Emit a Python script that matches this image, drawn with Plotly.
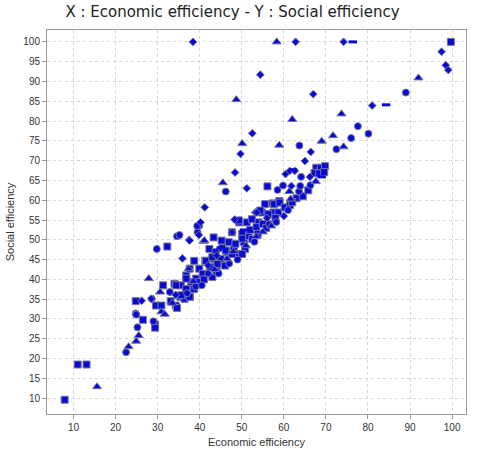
import plotly.graph_objects as go

# ---- data ----
sq_x = [7.9, 11.0, 13.1, 24.8, 26.5, 29.4, 29.4, 29.6, 31.3, 30.9, 33.1, 34.3, 34.6, 34.0, 35.5, 35.4,
        32.3, 43.3, 36.0, 36.4, 37.7, 38.2, 36.8, 38.0, 39.9, 39.1, 40.3, 38.7, 41.3, 42.4, 43.4, 44.8,
        46.0, 42.3, 43.8, 45.4, 46.6, 46.9, 48.1, 49.3, 50.5, 50.8, 51.6, 47.7, 50.1, 56.1, 55.5, 57.3,
        58.9, 54.8, 57.5, 49.4, 51.2, 45.2, 50.1, 46.2, 47.7, 50.1, 41.5, 43.0, 45.0, 37.6, 42.6, 44.2,
        36.8, 40.7, 43.0, 34.4, 36.8, 38.7, 39.9, 35.6, 37.6, 67.7, 68.8, 69.8, 67.3, 68.4, 69.6, 57.7,
        59.0, 54.4, 56.3, 58.7, 49.3, 52.4, 54.0, 52.0, 53.5, 55.0, 99.7, 48.5, 44.0, 41.0, 52.5, 53.8,
        55.8, 58.0, 60.2, 61.5, 63.0, 64.5, 65.8, 62.0]
sq_y = [9.6, 18.5, 18.5, 34.5, 29.8, 28.6, 27.8, 33.4, 38.5, 33.4, 34.5, 33.4, 32.8, 38.9, 38.5, 35.6,
        48.3, 50.6, 35.6, 35.1, 35.6, 37.6, 41.0, 39.3, 42.7, 40.2, 39.3, 44.7, 44.7, 42.8, 45.2, 44.3,
        43.5, 47.7, 46.9, 47.9, 46.9, 49.4, 47.7, 46.4, 49.4, 47.7, 51.0, 51.9, 51.5, 63.5, 59.0, 59.2,
        59.8, 56.9, 56.9, 54.4, 54.4, 49.8, 50.3, 47.3, 46.4, 46.4, 44.7, 45.6, 45.2, 42.7, 43.1, 43.9,
        40.2, 41.4, 40.6, 38.5, 37.6, 37.6, 39.3, 36.0, 35.6, 68.2, 68.2, 68.6, 66.9, 66.8, 67.1, 59.0,
        59.4, 57.4, 56.5, 56.9, 54.9, 55.2, 54.4, 52.5, 53.2, 54.0, 100.0, 49.0, 42.0, 40.0, 50.2, 51.5,
        53.0, 55.5, 58.2, 58.8, 60.5, 61.0, 62.5, 59.5]

ci_x = [22.5, 25.2, 24.8, 29.0, 32.9, 29.8, 34.6, 35.2, 28.6, 24.9, 39.5, 39.9, 39.4, 46.2, 58.5, 59.8,
        63.6, 63.9, 66.3, 64.1, 63.7, 72.5, 76.0, 77.6, 80.1, 89.0, 37.0, 40.5, 44.5, 47.0, 49.0, 53.0,
        56.5, 58.2, 61.0, 42.0, 39.0]
ci_y = [21.6, 27.9, 31.4, 29.4, 36.8, 47.7, 50.9, 51.2, 35.1, 31.1, 51.9, 53.6, 53.5, 62.2, 62.6, 63.7,
        62.2, 63.6, 63.8, 65.9, 73.8, 72.9, 75.7, 78.7, 76.8, 87.2, 36.5, 38.5, 41.5, 44.0, 45.0, 49.5,
        54.0, 54.5, 57.5, 41.5, 38.2]

tr_x = [15.6, 23.1, 24.9, 25.5, 27.9, 30.6, 30.9, 31.7, 37.4, 40.9, 41.1, 45.5, 48.7, 50.1, 58.9, 58.3,
        62.0, 73.7, 71.7, 69.0, 74.2, 92.0, 61.3, 61.6, 67.6, 38.5, 43.5, 46.5, 51.0, 33.5, 55.0, 57.0,
        48.0, 53.5]
tr_y = [12.9, 23.0, 24.4, 25.8, 40.2, 36.8, 31.8, 31.2, 42.7, 49.6, 49.8, 64.4, 85.4, 74.3, 73.9, 100.0,
        80.4, 81.8, 76.3, 74.9, 73.5, 90.9, 62.2, 60.3, 64.7, 39.5, 42.5, 45.2, 48.5, 34.0, 52.0, 53.5,
        47.0, 50.8]

di_x = [38.4, 62.8, 74.2, 97.5, 98.5, 99.1, 54.4, 67.0, 81.0, 52.5, 49.7, 48.4, 51.2, 60.4, 61.4, 62.6,
        61.8, 66.2, 66.4, 65.0, 41.2, 40.2, 37.5, 39.8, 35.9, 26.2, 28.5, 34.3, 53.2, 53.6, 48.3, 47.7,
        37.6, 60.0, 44.0, 42.0, 56.0]
di_y = [100.0, 100.0, 100.0, 97.5, 94.1, 92.9, 91.7, 86.8, 83.9, 76.9, 71.7, 67.0, 63.0, 66.6, 67.4, 67.4,
        63.6, 65.9, 72.2, 69.9, 58.2, 54.4, 50.0, 51.2, 45.3, 34.6, 35.1, 36.1, 56.9, 56.9, 55.1, 51.9,
        49.8, 56.0, 46.0, 43.5, 55.5]

da_x = [76.4, 84.3, 62.2, 69.0, 45.0, 50.5]
da_y = [100.0, 84.1, 67.7, 65.9, 48.0, 52.5]

x_ticks = [10, 20, 30, 40, 50, 60, 70, 80, 90, 100]
y_ticks = [10, 15, 20, 25, 30, 35, 40, 45, 50, 55, 60, 65, 70, 75, 80, 85, 90, 95, 100]

FILL = "rgb(10,10,215)"
EDGE = "rgb(120,120,150)"

fig = go.Figure()
for xs, ys, sym, sz in [(sq_x, sq_y, "square", 7), (ci_x, ci_y, "circle", 7),
                        (tr_x, tr_y, "triangle-up", 8), (di_x, di_y, "diamond", 6)]:
    fig.add_trace(go.Scatter(x=xs, y=ys, mode="markers",
                             marker=dict(symbol=sym, size=sz, color=FILL,
                                         line=dict(color=EDGE, width=1)),
                             showlegend=False))
fig.add_trace(go.Scatter(x=da_x, y=da_y, mode="markers",
                         marker=dict(symbol="line-ew", size=6,
                                     line=dict(color=FILL, width=3)),
                         showlegend=False))

axis_common = dict(showgrid=True, gridcolor="#d6d6d6", griddash="dot", gridwidth=1,
                   showline=True, linecolor="#999999", linewidth=1, mirror=True,
                   ticks="outside", ticklen=4, tickcolor="#999999",
                   tickfont=dict(family="Liberation Sans, Arial", size=10, color="#333333"),
                   zeroline=False)

fig.update_layout(
    width=477, height=457,
    margin=dict(l=42, r=10, t=30, b=41),
    paper_bgcolor="white", plot_bgcolor="white",
    title=dict(text="X : Economic efficiency - Y : Social efficiency",
               x=232.5 / 477, xanchor="center", xref="container",
               y=1 - 12 / 457, yanchor="middle",
               font=dict(family="DejaVu Sans", size=15, color="#222222")),
    xaxis=dict(range=[3.7, 103.3], tickvals=x_ticks,
               title=dict(text="Economic efficiency", standoff=6,
                          font=dict(family="Liberation Sans, Arial", size=11, color="#333333")),
               **axis_common),
    yaxis=dict(range=[6.0, 103.0], tickvals=y_ticks,
               title=dict(text="Social efficiency", standoff=6,
                          font=dict(family="Liberation Sans, Arial", size=11, color="#333333")),
               **axis_common),
)

fig.write_html("out.html")
